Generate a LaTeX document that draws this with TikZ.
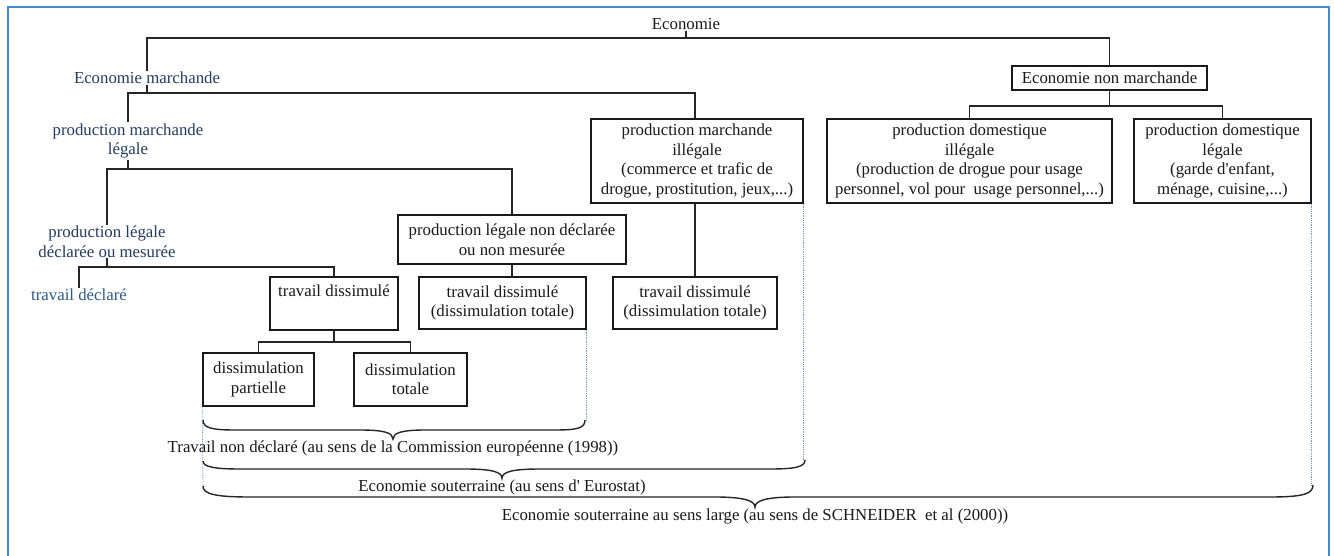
\documentclass[tikz,border=0pt]{standalone}
\usepackage{fontspec}
\setmainfont{Liberation Serif}
\definecolor{framec}{RGB}{70,140,205}
\definecolor{bluetext}{RGB}{35,60,95}
\definecolor{bluetextb}{RGB}{45,90,135}
\definecolor{guidec}{RGB}{120,155,195}
\begin{document}
\begin{tikzpicture}[x=1pt,y=-1pt,
  every node/.style={font=\fontsize{16.8}{19.5}\selectfont},
  txt/.style={inner sep=1pt, align=center, text=black!90},
  bx/.style={draw=black!90, line width=1.6pt, align=center, inner sep=1pt, text=black!90},
  tree/.style={line width=1.7pt, draw=black!85},
  brc/.style={line width=1.4pt, draw=black!85},
  guide/.style={line width=0.8pt, draw=guidec, densely dotted}]
\useasboundingbox[fill=white] (0,0) rectangle (1334,556);
\draw[framec, line width=2.5pt] (8,560) -- (8,7) -- (1329,7) -- (1329,560);

% bus levels
\coordinate (b1) at (0,38);
\coordinate (b2) at (0,93);
\coordinate (b3) at (0,169);
\coordinate (b4) at (0,267);
\coordinate (b5) at (0,342);
\coordinate (b6) at (0,106);

% nodes
\node[txt] (eco) at (686,24) {Economie};
\node[txt, text=bluetext] (em) at (147,78) {Economie marchande};
\node[bx, minimum width=195, minimum height=24] (enm) at (1109.5,78) {Economie non marchande};
\node[txt, text=bluetext] (pml) at (128,141) {production marchande\\légale};
\node[bx, minimum width=212, minimum height=84] (pmi) at (697,161) {production marchande\\illégale\\(commerce et trafic de\\drogue, prostitution, jeux,...)};
\node[bx, minimum width=285, minimum height=84] (pdi) at (969.5,161) {production domestique\\illégale\\(production de drogue pour usage\\personnel, vol pour\ \ usage personnel,...)};
\node[bx, minimum width=177, minimum height=84] (pdl) at (1222.5,161) {production domestique\\légale\\(garde d\textquotesingle enfant,\\ménage, cuisine,...)};
\node[txt, text=bluetext] (pld) at (107,241.5) {production légale\\déclarée ou mesurée};
\node[bx, minimum width=228, minimum height=49] (plnd) at (512,239.5) {production légale non déclarée\\ou non mesurée};
\node[txt, text=bluetextb] (tdec) at (79,295) {travail déclaré};
\node[bx, minimum width=128, minimum height=53] (td) at (334,303.5) {travail dissimulé\\\strut};
\node[bx, minimum width=167, minimum height=52] (td2) at (502.5,303) {travail dissimulé\\(dissimulation totale)};
\node[bx, minimum width=164, minimum height=52] (td3) at (695,303) {travail dissimulé\\(dissimulation totale)};
\node[bx, minimum width=111, minimum height=53] (dp) at (258.5,379.5) {dissimulation\\partielle};
\node[bx, minimum width=113, minimum height=53] (dt) at (410.5,379.5) {dissimulation\\totale};

% tree connectors
\draw[tree] (eco.south) -- (eco.south |- b1);
\draw[tree] (em.north) |- (b1 -| enm.north) -- (enm.north);
\draw[tree] (em.south) -- (em.south |- b2);
\draw[tree] (pml.north) |- (b2 -| td3.north) -- (td3.north |- pmi.north);
\draw[tree] (pml.south) -- (pml.south |- b3);
\draw[tree] (pld.north) |- (b3 -| plnd.north) -- (plnd.north);
\draw[tree] (pld.south) -- (pld.south |- b4);
\draw[tree] (tdec.north) |- (b4 -| td.north) -- (td.north);
\draw[tree] (plnd.south) -- (plnd.south |- td2.north);
\draw[tree] (td3.north) -- (td3.north |- pmi.south);
\draw[tree] (td.south) -- (td.south |- b5);
\draw[tree] (dp.north) |- (b5 -| dt.north) -- (dt.north);
\draw[tree] (enm.south) -- (enm.south |- b6);
\draw[tree] (pdi.north) |- (b6 -| pdl.north) -- (pdl.north);

% brace end points
\coordinate (g1) at (203,490);
\coordinate (g2) at (585,420);
\coordinate (g3) at (805,460);
\coordinate (g4) at (1313,485);

% guides
\draw[guide] (dp.south west) -- (g1);
\draw[guide] (td2.south east) -- (td2.south east |- g2);
\draw[guide] (pmi.south east) -- (pmi.south east |- g3);
\draw[guide] (pdl.south east) -- (pdl.south east |- g4);

% labels
\node[txt] (l1) at (393,448) {Travail non déclaré (au sens de la Commission européenne (1998))};
\node[txt] (l2) at (502,487) {Economie souterraine (au sens d\textquotesingle\ Eurostat)};
\node[txt] (l3) at (755,516) {Economie souterraine au sens large (au sens de SCHNEIDER\ \ et al (2000))};

% braces
\draw[brc] (203,420) .. controls (203,428) and (212,430) .. (235,430)
  -- (360,430) .. controls (385,430) and (393,433) .. (l1.north)
  .. controls (393,433) and (401,430) .. (426,430)
  -- (555,430) .. controls (578,430) and (585,428) .. (g2);
\draw[brc] (203,461) .. controls (203,467) and (215,469) .. (240,469)
  -- (465,469) .. controls (492,469) and (502,472) .. (l2.north)
  .. controls (502,472) and (512,469) .. (540,469)
  -- (770,469) .. controls (795,469) and (805,467) .. (g3);
\draw[brc] (203,486) .. controls (203,494) and (215,497) .. (250,497)
  -- (715,497) .. controls (745,497) and (755,501) .. (l3.north)
  .. controls (755,501) and (765,497) .. (795,497)
  -- (1270,497) .. controls (1303,497) and (1313,494) .. (g4);
\end{tikzpicture}
\end{document}
